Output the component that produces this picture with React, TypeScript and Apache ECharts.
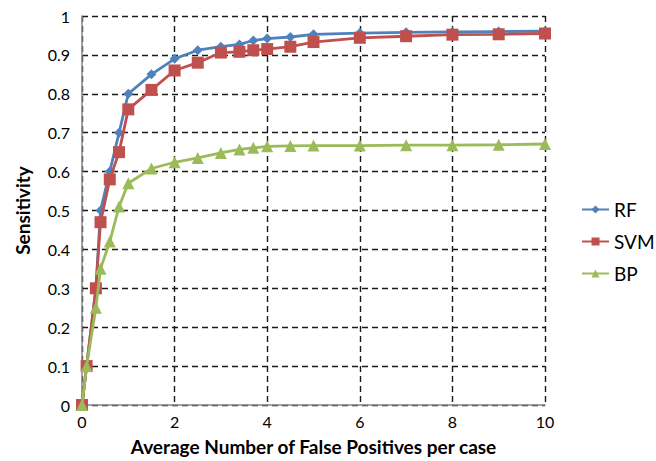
import React, { useEffect, useRef } from "react";
import * as echarts from "echarts";

const xValues = [0, 0.1, 0.3, 0.4, 0.6, 0.8, 1, 1.5, 2, 2.5, 3, 3.4, 3.7, 4, 4.5, 5, 6, 7, 8, 9, 10];
const rfValues = [0, 0.1, 0.3, 0.5, 0.6, 0.7, 0.8, 0.85, 0.89, 0.912, 0.921, 0.927, 0.937, 0.942, 0.946, 0.953, 0.956, 0.958, 0.959, 0.96, 0.961];
const svmValues = [0, 0.1, 0.3, 0.47, 0.58, 0.65, 0.76, 0.81, 0.86, 0.88, 0.906, 0.908, 0.912, 0.915, 0.921, 0.933, 0.944, 0.948, 0.952, 0.953, 0.955];
const bpValues = [0, 0.1, 0.25, 0.35, 0.42, 0.51, 0.57, 0.608, 0.624, 0.635, 0.648, 0.657, 0.661, 0.665, 0.666, 0.667, 0.667, 0.668, 0.668, 0.669, 0.671];
const seriesNames = ["RF", "SVM", "BP"];
const colors = ["#4F81BD", "#C0504D", "#9BBB59"];

const pair = (ys: number[]) => xValues.map((x, i) => [x, ys[i]]);

export default function App() {
  const ref = useRef<HTMLDivElement>(null);
  useEffect(() => {
    if (!ref.current) return;
    const chart = echarts.init(ref.current, null, { renderer: "svg" });
    const font = "Lato, 'Open Sans', sans-serif";
    chart.setOption({
      animation: false,
      textStyle: { fontFamily: font },
      grid: { left: 82, right: 111, top: 16, bottom: 55 },
      legend: {
        orient: "vertical",
        left: 576,
        top: 195,
        itemGap: 13,
        itemWidth: 27,
        itemHeight: 10,
        textStyle: { fontSize: 19, color: "#000", fontFamily: font },
        data: seriesNames,
      },
      xAxis: {
        type: "value",
        min: 0,
        max: 10,
        interval: 2,
        name: "Average Number of False Positives per case",
        nameLocation: "middle",
        nameGap: 32,
        nameTextStyle: { fontSize: 19, fontWeight: "bold", color: "#000", fontFamily: font },
        axisLine: { show: true, lineStyle: { color: "#868686", width: 1.5 } },
        axisTick: { show: false },
        axisLabel: { fontSize: 16, color: "#000", margin: 8 },
        splitLine: { show: true, lineStyle: { color: "#1a1a1a", type: [6, 4], width: 1.4 } },
      },
      yAxis: {
        type: "value",
        min: 0,
        max: 1,
        interval: 0.1,
        name: "Sensitivity",
        nameLocation: "middle",
        nameGap: 50,
        nameTextStyle: { fontSize: 19, fontWeight: "bold", color: "#000", fontFamily: font },
        axisLine: { show: true, lineStyle: { color: "#868686", width: 1.5 } },
        axisTick: { show: false },
        axisLabel: {
          fontSize: 16,
          color: "#000",
          margin: 12,
          formatter: (v: number) => (v === 0 ? "0" : v === 1 ? "1" : v.toFixed(1)),
        },
        splitLine: { show: true, lineStyle: { color: "#1a1a1a", type: [6, 4], width: 1.4 } },
      },
      series: [
        {
          name: seriesNames[0],
          type: "line",
          data: pair(rfValues),
          symbol: "diamond",
          symbolSize: 10,
          itemStyle: { color: colors[0] },
          lineStyle: { color: colors[0], width: 2.8 },
          z: 4,
        },
        {
          name: seriesNames[1],
          type: "line",
          data: pair(svmValues),
          symbol: "rect",
          symbolSize: 12,
          itemStyle: { color: colors[1] },
          lineStyle: { color: colors[1], width: 2.8 },
          z: 5,
        },
        {
          name: seriesNames[2],
          type: "line",
          data: pair(bpValues),
          symbol: "triangle",
          symbolSize: 12,
          itemStyle: { color: colors[2] },
          lineStyle: { color: colors[2], width: 2.8 },
          z: 6,
        },
      ],
    });
    return () => chart.dispose();
  }, []);
  return (
    <div
      ref={ref}
      style={{ position: "fixed", left: 0, top: 0, width: 656, height: 461, background: "#fff" }}
    />
  );
}
